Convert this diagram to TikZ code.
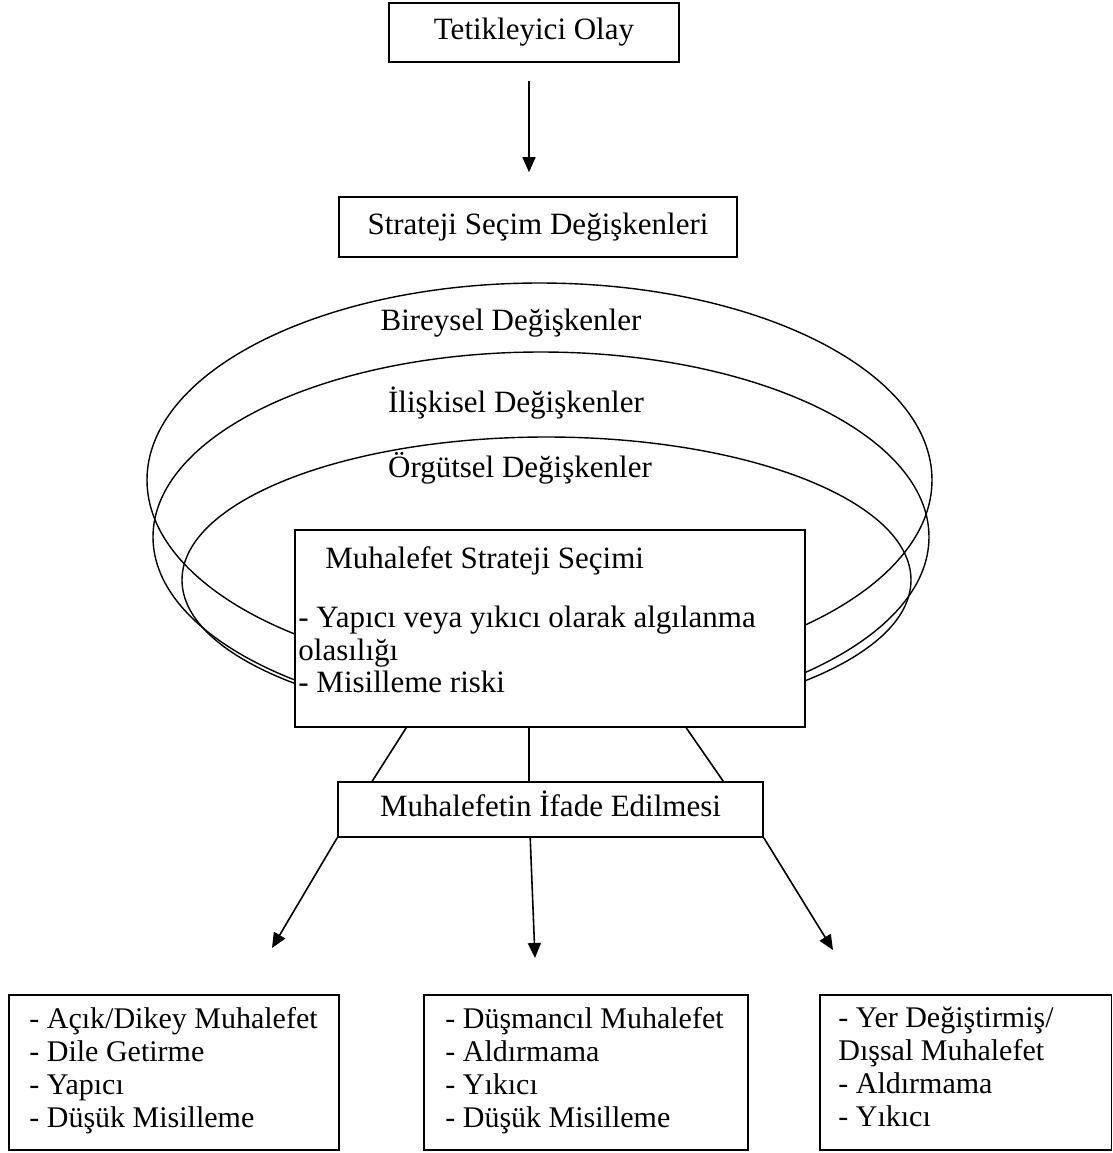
\documentclass[tikz,border=0pt]{standalone}
\usepackage{fontspec}
\setmainfont{Liberation Serif}
\usetikzlibrary{arrows.meta,calc}
\begin{document}
\begin{tikzpicture}[x=0.5pt,y=-0.5pt,
  box/.style={draw,line width=0.8pt,fill=white,inner sep=0pt,font=\fontsize{15.5}{17}\selectfont,text height=10.5pt,text depth=3.5pt},
  lbl/.style={inner sep=0pt,font=\fontsize{15.5}{17}\selectfont},
  lst/.style={inner sep=0pt,align=left,font=\fontsize{15}{16.5}\selectfont,anchor=north west},
  ring/.style={line width=0.7pt},
  conn/.style={line width=0.8pt},
  arr/.style={conn,-{Triangle[length=7.5pt,width=6.5pt]}}]
\useasboundingbox (0,0) rectangle (1113,1153);

% nested ellipses
\draw[ring] (539.5,480) ellipse [x radius=196.25pt, y radius=98.5pt];
\draw[ring] (541,537) ellipse [x radius=194pt, y radius=92.5pt];
\draw[ring] (546.5,580) ellipse [x radius=182.25pt, y radius=71.5pt];

\node[lbl,anchor=base] (lb1) at (511,330) {Bireysel Değişkenler};
\node[lbl,anchor=base] (lb2) at (516,412) {İlişkisel Değişkenler};
\node[lbl,anchor=base] (lb3) at (520,477) {Örgütsel Değişkenler};

% boxes
\node[box,minimum width=145pt,minimum height=29.5pt] (tet) at (534,32.5) {Tetikleyici Olay};
\node[box,minimum width=199pt,minimum height=30pt] (str) at (538,227) {Strateji Seçim Değişkenleri};
\node[box,minimum width=255pt,minimum height=98.5pt] (main) at (550,628.5) {};
\node[lbl,anchor=base west] (mt) at (325,568) {Muhalefet Strateji Seçimi};
\node[lbl,anchor=base west] (m1) at (298,627) {- Yapıcı veya yıkıcı olarak algılanma};
\node[lbl,anchor=base west] (m2) at (298,660) {olasılığı};
\node[lbl,anchor=base west] (m3) at (298,692) {- Misilleme riski};
\node[box,minimum width=212.5pt,minimum height=27.5pt] (ifade) at (550.5,809.5) {Muhalefetin İfade Edilmesi};

\node[box,minimum width=165pt,minimum height=77.5pt] (b1) at (174,1072.5) {};
\node[box,minimum width=162pt,minimum height=77.5pt] (b2) at (586,1072.5) {};
\node[box,minimum width=145.75pt,minimum height=77.5pt] (b3) at (965.75,1072.5) {};

\node[lst] (b1t) at (29,1005) {\strut- Açık/Dikey Muhalefet\\\strut- Dile Getirme\\\strut- Yapıcı\\\strut- Düşük Misilleme};
\node[lst] (b2t) at (445,1005) {\strut- Düşmancıl Muhalefet\\\strut- Aldırmama\\\strut- Yıkıcı\\\strut- Düşük Misilleme};
\node[lst] (b3t) at (838,1004) {\strut- Yer Değiştirmiş/\\\strut Dışsal Muhalefet\\\strut- Aldırmama\\\strut- Yıkıcı};

% connectors
\coordinate (ax) at (529,0);
\draw[arr] ($(tet.south -| ax)+(0,18)$) -- ($(str.north -| ax)+(0,-24)$);

\draw[conn] ($(main.south west)+(112,0)$) -- ($(ifade.north west)+(35,0)$);
\draw[conn] ($(main.south west)+(235,0)$) -- ($(ifade.north west)+(192,0)$);
\draw[conn] ($(main.south west)+(392,0)$) -- ($(ifade.north west)+(386,0)$);

\coordinate (t1) at (272,948);
\coordinate (t2) at (535,958);
\coordinate (t3) at (833,950);
\draw[arr] (ifade.south west) -- (t1);
\draw[arr] ($(ifade.south west)+(193,0)$) -- (t2);
\draw[arr] (ifade.south east) -- (t3);
\end{tikzpicture}
\end{document}
